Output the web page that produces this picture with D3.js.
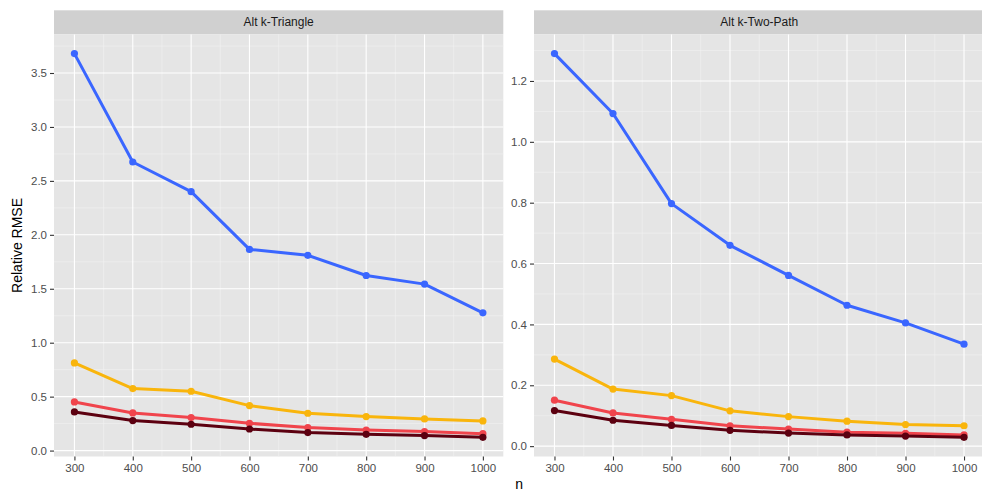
<!DOCTYPE html>
<html>
<head>
<meta charset="utf-8">
<script src="https://cdn.jsdelivr.net/npm/d3@7"></script>
<style>
  body { margin: 0; background: #fff; }
  svg { display: block; font-family: "Liberation Sans", Arial, sans-serif; }
</style>
</head>
<body>
<div id="chart"></div>
<script>
// sample sizes on the x axis
var nValues = [300, 400, 500, 600, 700, 800, 900, 1000];
var panelTitles = ["Alt k-Triangle", "Alt k-Two-Path"];
var seriesColors = ["#3a66ff", "#f9b50c", "#f0444c", "#5c0010"];

// Alt k-Triangle
var triBlue   = [3.68, 2.675, 2.40, 1.865, 1.81, 1.623, 1.543, 1.277];
var triYellow = [0.813, 0.575, 0.55, 0.417, 0.346, 0.315, 0.293, 0.275];
var triRed    = [0.451, 0.349, 0.306, 0.253, 0.213, 0.191, 0.176, 0.157];
var triDark   = [0.358, 0.278, 0.244, 0.200, 0.167, 0.151, 0.139, 0.123];

// Alt k-Two-Path
var twoBlue   = [1.29, 1.093, 0.797, 0.660, 0.561, 0.463, 0.405, 0.335];
var twoYellow = [0.286, 0.1875, 0.166, 0.116, 0.097, 0.082, 0.071, 0.067];
var twoRed    = [0.151, 0.109, 0.088, 0.067, 0.056, 0.046, 0.042, 0.037];
var twoDark   = [0.117, 0.085, 0.068, 0.052, 0.043, 0.037, 0.033, 0.029];

var yBreaks = [
  [0, 0.5, 1, 1.5, 2, 2.5, 3, 3.5],
  [0, 0.2, 0.4, 0.6, 0.8, 1.0, 1.2]
];
var xBreaks = [300, 400, 500, 600, 700, 800, 900, 1000];

var panelSeries = [
  [triBlue, triYellow, triRed, triDark],
  [twoBlue, twoYellow, twoRed, twoDark]
];

var width = 982, height = 491;
var svg = d3.select("#chart").append("svg")
  .attr("width", width).attr("height", height);

var panelTop = 34.4, panelBottom = 456.5, stripTop = 10.3;
var panelX = [[54, 503.3], [534, 984.5]];

// ggplot style 5% expansion
function expand(ext) {
  var d = (ext[1] - ext[0]) * 0.05;
  return [ext[0] - d, ext[1] + d];
}

var xExt = expand(d3.extent(nValues));

panelSeries.forEach(function(series, p) {
  var x0 = panelX[p][0], x1 = panelX[p][1];
  var yExt = expand(d3.extent(d3.merge(series)));
  var x = d3.scaleLinear().domain(xExt).range([x0, x1]);
  var y = d3.scaleLinear().domain(yExt).range([panelBottom, panelTop]);

  var g = svg.append("g");

  // strip
  g.append("rect").attr("x", x0).attr("y", stripTop)
    .attr("width", x1 - x0).attr("height", panelTop - stripTop)
    .attr("fill", "#d0d0d0");
  g.append("text").attr("x", (x0 + x1) / 2).attr("y", (stripTop + panelTop) / 2 + 4)
    .attr("text-anchor", "middle").attr("font-size", 12).attr("fill", "#1a1a1a")
    .text(panelTitles[p]);

  // panel background
  g.append("rect").attr("x", x0).attr("y", panelTop)
    .attr("width", x1 - x0).attr("height", panelBottom - panelTop)
    .attr("fill", "#e5e5e5");

  // minor grid
  var yb = yBreaks[p];
  var step = yb[1] - yb[0];
  var yMinor = [];
  for (var i = 0; i <= yb.length; i++) {
    var v = yb[0] + (i - 0.5) * step;
    if (v > yExt[0] && v < yExt[1]) yMinor.push(v);
  }
  var xMinor = [];
  for (var k = 0; k <= xBreaks.length; k++) {
    var xv = xBreaks[0] + (k - 0.5) * 100;
    if (xv > xExt[0] && xv < xExt[1]) xMinor.push(xv);
  }
  g.selectAll(".ymin").data(yMinor).enter().append("line")
    .attr("x1", x0).attr("x2", x1)
    .attr("y1", d => y(d)).attr("y2", d => y(d))
    .attr("stroke", "#f2f2f2").attr("stroke-width", 0.6);
  g.selectAll(".xmin").data(xMinor).enter().append("line")
    .attr("y1", panelTop).attr("y2", panelBottom)
    .attr("x1", d => x(d)).attr("x2", d => x(d))
    .attr("stroke", "#f2f2f2").attr("stroke-width", 0.6);

  // major grid
  g.selectAll(".ymaj").data(yb).enter().append("line")
    .attr("x1", x0).attr("x2", x1)
    .attr("y1", d => y(d)).attr("y2", d => y(d))
    .attr("stroke", "#fff").attr("stroke-width", 1.1);
  g.selectAll(".xmaj").data(xBreaks).enter().append("line")
    .attr("y1", panelTop).attr("y2", panelBottom)
    .attr("x1", d => x(d)).attr("x2", d => x(d))
    .attr("stroke", "#fff").attr("stroke-width", 1.1);

  // axes
  var yAxis = d3.axisLeft(y).tickValues(yb).tickFormat(d3.format(".1f"))
    .tickSize(4).tickPadding(3);
  var ya = g.append("g").attr("transform", "translate(" + x0 + ",0)").call(yAxis);
  var xAxis = d3.axisBottom(x).tickValues(xBreaks).tickFormat(d3.format("d"))
    .tickSize(4).tickPadding(3);
  var xa = g.append("g").attr("transform", "translate(0," + panelBottom + ")").call(xAxis);
  [ya, xa].forEach(function(a) {
    a.select(".domain").remove();
    a.selectAll(".tick line").attr("stroke", "#333").attr("stroke-width", 1.1);
    a.selectAll(".tick text").attr("fill", "#4d4d4d")
      .attr("font-size", 11.5).attr("font-family", "Liberation Sans, Arial, sans-serif");
  });

  // lines and points
  var line = d3.line().x((d, i) => x(nValues[i])).y(d => y(d));
  series.forEach(function(vals, s) {
    g.append("path").datum(vals).attr("d", line)
      .attr("fill", "none").attr("stroke", seriesColors[s])
      .attr("stroke-width", 3).attr("stroke-linejoin", "round");
    g.selectAll(".pt" + s).data(vals).enter().append("circle")
      .attr("cx", (d, i) => x(nValues[i])).attr("cy", d => y(d))
      .attr("r", 3.6).attr("fill", seriesColors[s]);
  });
});

// axis titles
svg.append("text").attr("x", (panelX[0][0] + panelX[1][1]) / 2).attr("y", 489)
  .attr("text-anchor", "middle").attr("font-size", 14).attr("fill", "#000").text("n");
svg.append("text")
  .attr("transform", "translate(22," + (panelTop + panelBottom) / 2 + ") rotate(-90)")
  .attr("text-anchor", "middle").attr("font-size", 14).attr("fill", "#000")
  .text("Relative RMSE");
</script>
</body>
</html>
